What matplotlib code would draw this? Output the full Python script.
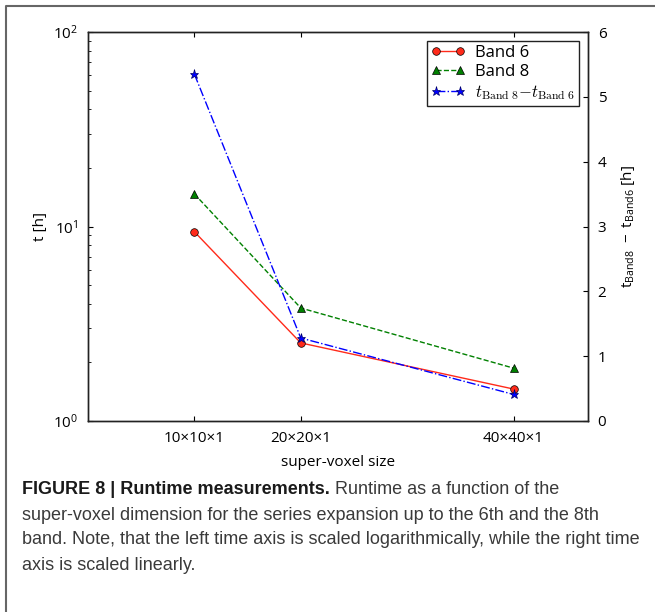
import matplotlib
matplotlib.use("Agg")
import matplotlib.pyplot as plt
from matplotlib.font_manager import FontProperties
from matplotlib.lines import Line2D
from matplotlib.ticker import NullFormatter

# Runtime per super-voxel size
sizes = [10, 20, 40]
size_labels = ["10×10×1", "20×20×1", "40×40×1"]
band6 = [9.4, 2.52, 1.46]
band8 = [14.7, 3.81, 1.87]
band_diff = [5.35, 1.28, 0.41]

caption_head = "FIGURE 8 | Runtime measurements."
caption_lines = [
    " Runtime as a function of the",
    "super-voxel dimension for the series expansion up to the 6th and the 8th",
    "band. Note, that the left time axis is scaled logarithmically, while the right time",
    "axis is scaled linearly.",
]

plt.rcParams.update({
    "font.family": ["Open Sans", "DejaVu Sans"],
    "mathtext.fontset": "custom",
    "mathtext.rm": "Open Sans",
    "mathtext.it": "Open Sans:italic",
    "mathtext.bf": "Open Sans:bold",
    "xtick.direction": "in",
    "ytick.direction": "in",
    "xtick.top": True,
    "xtick.major.size": 3.5,
    "ytick.major.size": 3.5,
    "ytick.minor.size": 2,
    "axes.linewidth": 1.0,
    "axes.edgecolor": "#222222",
})

W, H = 655, 612
fig = plt.figure(figsize=(W / 100, H / 100), dpi=100)
ax = fig.add_axes([88 / W, 1 - 421 / H, 500 / W, 389 / H])

l6, = ax.plot(sizes, band6, color="#ff2a1a", lw=1, marker="o", ms=5.5, mec="k", mew=0.5, label="Band 6")
l8, = ax.plot(sizes, band8, color="g", lw=1, ls="--", marker="^", ms=6, mec="k", mew=0.5, label="Band 8")
ax.set_yscale("log")
ax.set_ylim(1, 100)
ax.set_xlim(0, 47)
ax.set_xticks(sizes)
ax.set_xticklabels(size_labels)
ax.yaxis.set_minor_formatter(NullFormatter())
ax.tick_params(axis="y", which="both", right=False)
ax.tick_params(labelsize=11, pad=7)
ax.set_xlabel("super-voxel size", fontsize=11, labelpad=7)
ax.set_ylabel("t [h]", fontsize=11, labelpad=4)

ax2 = ax.twinx()
ld, = ax2.plot(sizes, band_diff, color="b", lw=1, ls="-.", marker="*", ms=6.5, mec="#000066", mew=0.5,
               label=r"$t_{\rm Band\ 8}{-}t_{\rm Band\ 6}$")
ax2.set_ylim(0, 6)
ax2.set_yticks(range(7))
ax2.tick_params(axis="y", direction="in", labelsize=11, pad=7)
ax2.set_ylabel(r"$\mathrm{t_{Band8}\ -\ t_{Band6}}$ [h]", fontsize=11, labelpad=9)

leg = ax2.legend(handles=[l6, l8, ld], loc="upper right", numpoints=2, fancybox=False,
                 framealpha=1, edgecolor="#222222", handlelength=2.0, handletextpad=0.6,
                 labelspacing=0.18, borderaxespad=0.55, borderpad=0.25,
                 prop=FontProperties(family="Open Sans", size=12, math_fontfamily="cm"))
leg.get_frame().set_linewidth(1.0)

# frame around the figure panel
fig.add_artist(Line2D([6 / W, 6 / W, 1], [0, 1 - 6 / H, 1 - 6 / H],
                      transform=fig.transFigure, color="#666666", lw=1.5))

# caption
cap_font = dict(family="Liberation Sans", fontsize=13)
y0 = 490
head = fig.text(22 / W, 1 - y0 / H, caption_head, fontweight="bold", color="#1a1a1a", va="center", **cap_font)
ax.annotate(caption_lines[0], xy=(1, 0), xycoords=head, va="bottom", ha="left",
            color="#3a3a3a", annotation_clip=False, **cap_font)
for i, line in enumerate(caption_lines[1:], start=1):
    fig.text(22 / W, 1 - (y0 + 25 * i) / H, line, color="#3a3a3a", va="center", **cap_font)

fig.savefig("out.png", dpi=100)
